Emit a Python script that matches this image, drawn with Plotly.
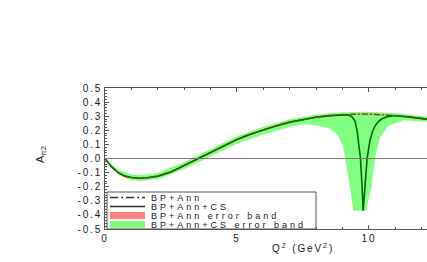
import plotly.graph_objects as go

# ---------------- data ----------------
q2_main = [0.0, 0.25, 0.5, 0.75, 1.0, 1.3, 1.6, 2.0, 2.5, 3.0, 3.5, 4.0, 4.5, 5.0,
           5.5, 6.0, 6.5, 7.0, 7.5, 8.0, 8.5, 9.0, 9.5, 10.0, 10.5, 11.0, 11.5, 12.0, 12.2]
a_bpann = [0.0, -0.06, -0.10, -0.125, -0.135, -0.140, -0.137, -0.125, -0.095, -0.050,
           0.0, 0.045, 0.090, 0.135, 0.172, 0.205, 0.233, 0.258, 0.278, 0.293, 0.304,
           0.311, 0.315, 0.315, 0.311, 0.304, 0.295, 0.284, 0.279]
a_bpann_lo = [0.0, -0.067, -0.107, -0.132, -0.142, -0.147, -0.144, -0.132, -0.102, -0.057,
              -0.007, 0.038, 0.083, 0.128, 0.165, 0.198, 0.226, 0.251, 0.271, 0.286, 0.297,
              0.304, 0.308, 0.308, 0.304, 0.297, 0.288, 0.277, 0.272]
a_bpann_hi = [0.0, -0.053, -0.093, -0.118, -0.128, -0.133, -0.130, -0.118, -0.088, -0.043,
              0.007, 0.052, 0.097, 0.142, 0.179, 0.212, 0.240, 0.265, 0.285, 0.300, 0.311,
              0.318, 0.322, 0.322, 0.318, 0.311, 0.302, 0.291, 0.286]

q2_cs = [0.0, 0.25, 0.5, 0.75, 1.0, 1.3, 1.6, 2.0, 2.5, 3.0, 3.5, 4.0, 4.5, 5.0,
         5.5, 6.0, 6.5, 7.0, 7.5, 8.0, 8.5, 9.0, 9.2, 9.36, 9.47, 9.55, 9.6, 9.68,
         9.74, 9.78, 9.85, 9.93, 10.04, 10.13, 10.23, 10.35, 10.48, 10.7, 10.92,
         11.0, 11.5, 12.0, 12.2]
a_bpanncs = [0.0, -0.06, -0.10, -0.125, -0.135, -0.140, -0.137, -0.125, -0.095, -0.050,
             0.0, 0.045, 0.090, 0.135, 0.172, 0.205, 0.233, 0.258, 0.278, 0.293, 0.304,
             0.311, 0.31, 0.295, 0.265, 0.20, 0.13, 0.0, -0.20, -0.37, -0.20, 0.0,
             0.13, 0.19, 0.23, 0.26, 0.28, 0.297, 0.303, 0.303, 0.295, 0.284, 0.279]

q2_band_hi = [0.0, 0.5, 1.0, 1.3, 2.0, 3.0, 4.0, 5.0, 6.0, 7.0, 8.0, 9.0, 10.0, 11.0, 12.0, 12.2]
a_cs_band_hi = [0.0, -0.08, -0.113, -0.118, -0.103, -0.027, 0.068, 0.158, 0.225, 0.278,
                0.312, 0.328, 0.332, 0.322, 0.302, 0.296]
q2_band_lo = [0.0, 0.5, 1.0, 1.3, 2.0, 3.0, 4.0, 5.0, 6.0, 7.0, 7.5, 8.0, 8.5, 8.8,
              9.02, 9.11, 9.28, 9.41, 9.69, 9.89, 10.1, 10.23, 10.42, 10.73, 11.3, 12.2]
a_cs_band_lo = [0.0, -0.115, -0.155, -0.16, -0.147, -0.075, 0.017, 0.105, 0.17, 0.225, 0.243,
                0.235, 0.215, 0.17, 0.09, 0.0, -0.2, -0.37, -0.37, -0.37, -0.2, 0.0,
                0.15, 0.23, 0.272, 0.26]

y_ticks = [-0.5, -0.4, -0.3, -0.2, -0.1, 0.0, 0.1, 0.2, 0.3, 0.4, 0.5]
y_ticklabels = ["-0.5", "-0.4", "-0.3", "-0.2", "-0.1", "0.0", "0.1", "0.2", "0.3", "0.4", "0.5"]
x_ticks = [0, 5, 10]
x_ticklabels = ["0", "5", "10"]

legend_labels = ["BP+Ann", "BP+Ann+CS", "BP+Ann error band", "BP+Ann+CS error band"]

# ---------------- styles ----------------
GREEN_BAND = "#80ff80"
RED_BAND = "#ff8080"
CS_LINE = "#006400"
ANN_LINE = "#4a5a10"
FRAME = "#555555"
TXT = "#1a1a1a"
FONT = "Liberation Sans"
SPACED = '<span style="letter-spacing:{sp}px">{t}</span>'


def spaced(t, sp=2.6):
    return SPACED.format(sp=sp, t=t)


fig = go.Figure()

fig.add_trace(go.Scatter(
    x=q2_band_hi + q2_band_lo[::-1], y=a_cs_band_hi + a_cs_band_lo[::-1],
    fill="toself", fillcolor=GREEN_BAND, line=dict(width=0), mode="lines",
    hoverinfo="skip", showlegend=False))
fig.add_trace(go.Scatter(
    x=q2_main + q2_main[::-1], y=a_bpann_hi + a_bpann_lo[::-1],
    fill="toself", fillcolor="rgba(255,128,128,0.6)", line=dict(width=0), mode="lines",
    hoverinfo="skip", showlegend=False))
fig.add_trace(go.Scatter(
    x=q2_cs, y=a_bpanncs, mode="lines", line=dict(color=CS_LINE, width=1.6),
    showlegend=False))
fig.add_trace(go.Scatter(
    x=q2_main, y=a_bpann, mode="lines",
    line=dict(color=ANN_LINE, width=1.3, dash="6px,2px,2px,2px"), showlegend=False))

# zero reference line above the bands
fig.add_shape(type="line", xref="paper", x0=0, x1=1, yref="y", y0=0, y1=0,
              line=dict(color="#777777", width=1), layer="above")

# ---------------- manual legend (pixel positions converted to paper) ----------------
L, T, W, H = 105, 88, 322, 141


def px(xp):
    return (xp - L) / W


def py(yp):
    return (T + H - yp) / H


fig.add_shape(type="rect", xref="paper", yref="paper",
              x0=px(107), x1=px(316), y0=py(229), y1=py(192),
              line=dict(color=FRAME, width=1), fillcolor="white", layer="above")
rows = [197.5, 206.5, 215.5, 224.5]
fig.add_shape(type="line", xref="paper", yref="paper", x0=px(110), x1=px(145),
              y0=py(rows[0]), y1=py(rows[0]),
              line=dict(color="#333333", width=1.3, dash="8px,3px,2px,3px"), layer="above")
fig.add_shape(type="line", xref="paper", yref="paper", x0=px(110), x1=px(145),
              y0=py(rows[1]), y1=py(rows[1]),
              line=dict(color="#333333", width=1.3), layer="above")
fig.add_shape(type="rect", xref="paper", yref="paper", x0=px(110), x1=px(145),
              y0=py(rows[2] + 3.5), y1=py(rows[2] - 3.5),
              line=dict(width=0), fillcolor=RED_BAND, layer="above")
fig.add_shape(type="rect", xref="paper", yref="paper", x0=px(110), x1=px(145),
              y0=py(rows[3] + 3.5), y1=py(rows[3] - 3.5),
              line=dict(width=0), fillcolor=GREEN_BAND, layer="above")
for lab, r in zip(legend_labels, rows):
    fig.add_annotation(text=spaced(lab, 3.0), xref="paper", yref="paper", x=px(150), y=py(r),
                       xanchor="left", yanchor="middle", showarrow=False,
                       height=9, borderpad=0,
                       font=dict(family=FONT, size=9, color=TXT))

# axis titles
fig.add_annotation(text=spaced("Q<sup>2</sup> (GeV<sup>2</sup>)", 1.9), xref="paper", yref="paper",
                   x=px(303), y=py(248), xanchor="center", yanchor="middle",
                   showarrow=False, font=dict(family=FONT, size=10, color=TXT))
fig.add_annotation(text="A<sub>π2</sub>", xref="paper", yref="paper",
                   x=px(41), y=py(155), xanchor="center", yanchor="middle",
                   textangle=-90, showarrow=False, font=dict(family=FONT, size=11, color=TXT))

fig.update_layout(
    width=427, height=262,
    margin=dict(l=L, r=427 - L - W, t=T, b=262 - T - H, pad=0),
    paper_bgcolor="white", plot_bgcolor="white",
    showlegend=False,
    font=dict(family=FONT, size=10, color=TXT),
    xaxis=dict(range=[0, 12.2], showgrid=False, zeroline=False,
               showline=True, linecolor=FRAME, linewidth=1, mirror="ticks",
               ticks="inside", ticklen=4, tickcolor=FRAME,
               tickvals=x_ticks, ticktext=[spaced(t, 1.8) for t in x_ticklabels],
               minor=dict(dtick=1, ticks="inside", ticklen=2, tickcolor=FRAME, showgrid=False)),
    yaxis=dict(range=[-0.5, 0.5], showgrid=False, zeroline=False,
               showline=True, linecolor=FRAME, linewidth=1,
               ticks="inside", ticklen=4, tickcolor=FRAME,
               tickvals=y_ticks, ticktext=[spaced(t, 1.8) for t in y_ticklabels],
               minor=dict(dtick=0.02, ticks="inside", ticklen=2, tickcolor=FRAME, showgrid=False)),
)

fig.write_html("out.html", config={"displayModeBar": False},
               post_script="document.body.style.margin='0px';")
